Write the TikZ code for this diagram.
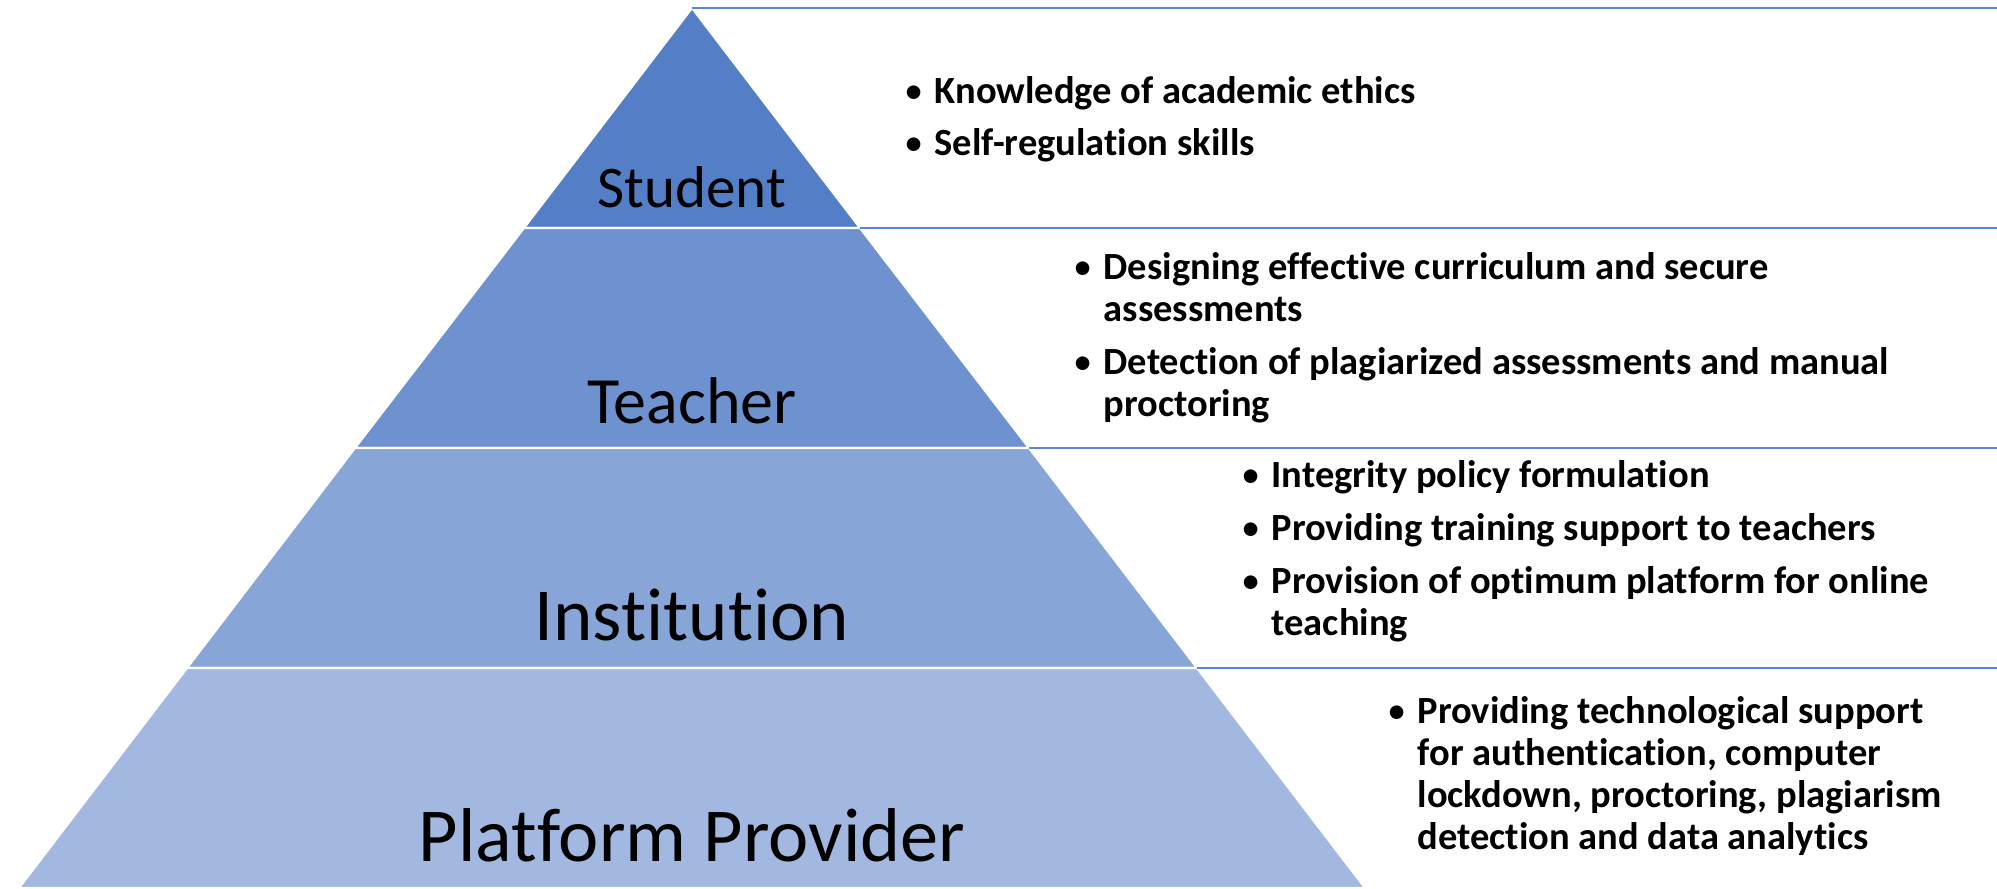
\documentclass[tikz,border=0pt]{standalone}
\usepackage{fontspec}
\setmainfont{Carlito}[Ligatures=NoCommon]
\usepackage{array}
\definecolor{bandA}{RGB}{84,127,199}
\definecolor{bandB}{RGB}{110,146,208}
\definecolor{bandC}{RGB}{136,165,216}
\definecolor{bandD}{RGB}{162,184,224}
\definecolor{linecol}{RGB}{88,134,212}
\newcommand{\bl}{{\mdseries\textbullet}}
\begin{document}
\begin{tikzpicture} [{band/.style={draw=white,line width=0.6pt}},{lbl/.style={anchor=base,inner sep=0pt}},{bul/.style={anchor=base west,inner sep=0pt,font=\fontsize{10.95}{11.95}\selectfont\bfseries}},{divline/.style={color=linecol,line width=0.7pt}}]
		\useasboundingbox (0,0) rectangle (19.97,8.88);
		%%pyramid corners
		\coordinate (apex) at (6.92,8.80);
		\coordinate (l1) at (5.24,6.60);
		\coordinate (r1) at (8.60,6.60);
		\coordinate (l2) at (3.55,4.40);
		\coordinate (r2) at (10.29,4.40);
		\coordinate (l3) at (1.87,2.20);
		\coordinate (r3) at (11.97,2.20);
		\coordinate (l4) at (0.19,0);
		\coordinate (r4) at (13.65,0);
		%%right ends
		\coordinate (e0) at (19.97,8.80);
		\coordinate (e1) at (19.97,6.60);
		\coordinate (e2) at (19.97,4.40);
		\coordinate (e3) at (19.97,2.20);
		%%bands
		\draw [band,fill=bandA] (apex) -- (r1) -- (l1) -- cycle;
		\draw [band,fill=bandB] (l1) -- (r1) -- (r2) -- (l2) -- cycle;
		\draw [band,fill=bandC] (l2) -- (r2) -- (r3) -- (l3) -- cycle;
		\draw [band,fill=bandD] (l3) -- (r3) -- (r4) -- (l4) -- cycle;
		%%dividers
		\draw [divline] (apex) -- (e0);
		\draw [divline] (r1) -- (e1);
		\draw [divline] (r2) -- (e2);
		\draw [divline] (r3) -- (e3);
		%%labels
		\node at (6.92,6.81) [lbl,font=\fontsize{16.8}{20}\selectfont] (student) {Student};
		\node at (6.92,4.65) [lbl,font=\fontsize{18.8}{22}\selectfont] (teacher) {Teacher};
		\node at (6.92,2.48) [lbl,font=\fontsize{21.3}{25}\selectfont] (institution) {Institution};
		\node at (6.92,0.27) [lbl,font=\fontsize{21.7}{26}\selectfont] (provider) {Platform Provider};
		%%bullet texts
		\node at (9.04,7.85) [bul] (studentlist) {\begin{tabular}[t]{@{}p{0.30cm}@{}l@{}}
			\bl & Knowledge of academic ethics\\[0.11cm]
			\bl & Self-regulation skills
		\end{tabular}};
		\node at (10.73,6.09) [bul] (teacherlist) {\begin{tabular}[t]{@{}p{0.30cm}@{}l@{}}
			\bl & Designing effective curriculum and secure\\
			& assessments\\[0.11cm]
			\bl & Detection of plagiarized assessments and manual\\
			& proctoring
		\end{tabular}};
		\node at (12.41,4.01) [bul] (institutionlist) {\begin{tabular}[t]{@{}p{0.30cm}@{}l@{}}
			\bl & Integrity policy formulation\\[0.11cm]
			\bl & Providing training support to teachers\\[0.11cm]
			\bl & Provision of optimum platform for online\\
			& teaching
		\end{tabular}};
		\node at (13.87,1.65) [bul] (providerlist) {\begin{tabular}[t]{@{}p{0.30cm}@{}l@{}}
			\bl & Providing technological support\\
			& for authentication, computer\\
			& lockdown, proctoring, plagiarism\\
			& detection and data analytics
		\end{tabular}};
	\end{tikzpicture}
\end{document}
